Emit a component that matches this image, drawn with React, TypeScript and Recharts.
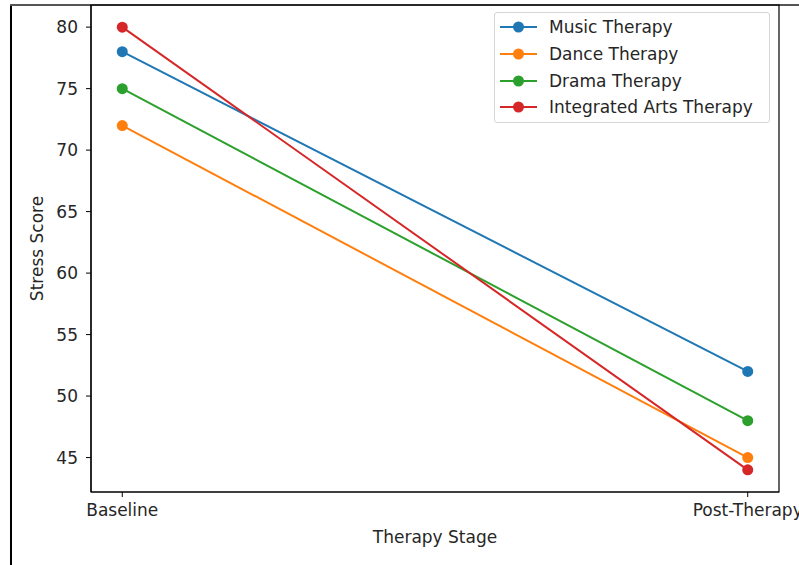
import {
  LineChart,
  Line,
  XAxis,
  YAxis,
  ReferenceArea,
  Label,
} from 'recharts';

const stages = ['Baseline', 'Post-Therapy'];
const musicTherapy = [78, 52];
const danceTherapy = [72, 45];
const dramaTherapy = [75, 48];
const integratedArts = [80, 44];
const yTicks = [45, 50, 55, 60, 65, 70, 75, 80];

const SERIES = [
  { key: 'music', label: 'Music Therapy', color: '#1f77b4', values: musicTherapy },
  { key: 'dance', label: 'Dance Therapy', color: '#ff7f0e', values: danceTherapy },
  { key: 'drama', label: 'Drama Therapy', color: '#2ca02c', values: dramaTherapy },
  { key: 'integrated', label: 'Integrated Arts Therapy', color: '#d62728', values: integratedArts },
];

const data = stages.map((stage, i) => {
  const row: Record<string, number | string> = { idx: i, stage };
  SERIES.forEach((s) => {
    row[s.key] = s.values[i];
  });
  return row;
});

const FONT = '"DejaVu Sans", sans-serif';
const FS = 17;

const LegendBox = () => (
  <div
    style={{
      position: 'absolute',
      left: 494,
      top: 12,
      width: 276,
      height: 111,
      border: '1px solid #d6d6d6',
      borderRadius: 3,
      background: 'rgba(255,255,255,0.8)',
      boxSizing: 'border-box',
      paddingTop: 1,
      fontFamily: FONT,
      fontSize: FS,
      color: '#262626',
    }}
  >
    {SERIES.map((s) => (
      <div key={s.key} style={{ display: 'flex', alignItems: 'center', height: 26.7 }}>
        <svg width={50} height={14} style={{ marginLeft: 4 }}>
          <line x1={1} y1={7} x2={38} y2={7} stroke={s.color} strokeWidth={2} />
          <circle cx={19.5} cy={7} r={5.5} fill={s.color} />
        </svg>
        <span>{s.label}</span>
      </div>
    ))}
  </div>
);

export default function App() {
  return (
    <div
      style={{
        position: 'absolute',
        left: 0,
        top: 0,
        width: 799,
        height: 565,
        background: '#fff',
        overflow: 'hidden',
      }}
    >
      <div style={{ position: 'absolute', left: 10, top: 4, width: 1.5, height: 561, background: '#000' }} />
      <div style={{ position: 'absolute', left: 10, top: 4, width: 789, height: 1.5, background: '#555' }} />
      <LineChart
        width={799}
        height={565}
        data={data}
        margin={{ top: 5, right: 20, bottom: 0, left: 41 }}
        style={{ position: 'absolute', left: 0, top: 0, fontFamily: FONT }}
      >
        <XAxis
          dataKey="idx"
          type="number"
          domain={[-0.05, 1.05]}
          ticks={[0, 1]}
          tickFormatter={(v: number) => stages[v]}
          axisLine={{ stroke: '#000', strokeWidth: 1.2 }}
          tickLine={{ stroke: '#000' }}
          tickSize={5}
          tickMargin={7}
          tick={{ fill: '#262626', fontSize: FS }}
          height={73}
          interval={0}
        >
          <Label value="Therapy Stage" position="insideBottom" offset={22} fill="#262626" fontSize={FS} />
        </XAxis>
        <YAxis
          type="number"
          domain={[42.2, 81.8]}
          ticks={yTicks}
          allowDataOverflow
          axisLine={{ stroke: '#000', strokeWidth: 1.2 }}
          tickLine={{ stroke: '#000' }}
          tickSize={5}
          tickMargin={8}
          tick={{ fill: '#262626', fontSize: FS }}
          width={50}
        >
          <Label
            value="Stress Score"
            angle={-90}
            position="insideLeft"
            offset={-4}
            style={{ textAnchor: 'middle' }}
            fill="#262626"
            fontSize={FS}
          />
        </YAxis>
        <ReferenceArea
          x1={-0.05}
          x2={1.05}
          y1={42.2}
          y2={81.8}
          fill="none"
          stroke="#000"
          strokeWidth={1.2}
          ifOverflow="visible"
        />
        {SERIES.map((s) => (
          <Line
            key={s.key}
            dataKey={s.key}
            name={s.label}
            type="linear"
            stroke={s.color}
            strokeWidth={2}
            dot={{ r: 5.5, fill: s.color, stroke: s.color, strokeWidth: 0 }}
            activeDot={false}
            isAnimationActive={false}
          />
        ))}
      </LineChart>
      <LegendBox />
    </div>
  );
}
